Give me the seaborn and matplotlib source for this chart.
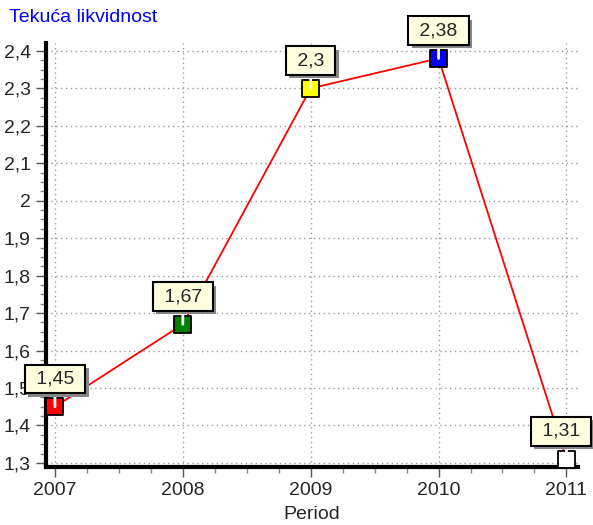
import matplotlib
matplotlib.use("Agg")
import matplotlib.pyplot as plt
import matplotlib.patheffects as pe
from matplotlib.ticker import MultipleLocator, FuncFormatter
import pandas as pd
import seaborn as sns

years = [2007, 2008, 2009, 2010, 2011]
values = [1.45, 1.67, 2.30, 2.38, 1.31]
labels = ["1,45", "1,67", "2,3", "2,38", "1,31"]
marker_colors = ["#ff0000", "#008000", "#ffff00", "#0000ff", "#ffffff"]

df = pd.DataFrame({"Period": years, "Vrijednost": values, "Oznaka": labels})

sns.set_style("white")
plt.rcParams['font.family'] = ['Liberation Sans', 'DejaVu Sans']

fig = plt.figure(figsize=(5.93, 5.25), dpi=100)
ax = fig.add_axes([0.0776, 0.1105, 0.897, 0.8075])

sns.lineplot(data=df, x="Period", y="Vrijednost", color="red", lw=1.3, ax=ax, zorder=3)
sns.scatterplot(data=df, x="Period", y="Vrijednost", hue="Oznaka", palette=marker_colors,
                marker="s", s=150, edgecolor="black", linewidth=1.3, legend=False, ax=ax, zorder=4)

off = 20  # label offset above the point, in points
for i, (x, y, t) in enumerate(zip(years, values, labels)):
    dx = -4 if i == len(years) - 1 else 0  # last box would hit the right edge
    a = ax.annotate(" " + t + " ", xy=(x, y), xytext=(dx, off), textcoords="offset points",
                    ha="center", va="center", fontsize=14, zorder=6,
                    bbox=dict(boxstyle="square,pad=0.3", fc="#ffffe0", ec="black", lw=1.5))
    a.get_bbox_patch().set_path_effects([
        pe.SimplePatchShadow(offset=(2.5, -2.5), shadow_rgbFace="#888888", alpha=1.0),
        pe.Normal()])
    ax.annotate("", xy=(x, y), xytext=(0, 7), textcoords="offset points",
                arrowprops=dict(arrowstyle="-", color="white", lw=2, shrinkA=0, shrinkB=0),
                zorder=5)

ax.set_xlim(2006.93, 2011.09)
ax.set_ylim(1.289, 2.421)
ax.xaxis.set_major_locator(MultipleLocator(1))
ax.xaxis.set_minor_locator(MultipleLocator(0.25))
ax.yaxis.set_major_locator(MultipleLocator(0.1))
ax.yaxis.set_minor_locator(MultipleLocator(0.025))
ax.yaxis.set_major_formatter(FuncFormatter(lambda v, p: f"{v:.1f}".rstrip("0").rstrip(".").replace(".", ",")))
ax.xaxis.set_major_formatter(FuncFormatter(lambda v, p: f"{int(round(v))}"))

ax.grid(True, which="major", color="#999999", linestyle=(0, (1, 2.5)), lw=1)
ax.tick_params(which="major", length=7, width=1, color="#555555", labelsize=14, direction="out",
               bottom=True, left=True, pad=4)
ax.tick_params(which="minor", length=4, width=1, color="#888888", direction="out",
               bottom=True, left=True)
for s in ["top", "right"]:
    ax.spines[s].set_visible(False)
for s in ["left", "bottom"]:
    ax.spines[s].set_linewidth(3)
    ax.spines[s].set_color("black")

ax.set_xlabel("Period", fontsize=14)
ax.xaxis.set_label_coords(0.5, -0.113)
ax.xaxis.label.set_va("center")
ax.set_ylabel("")
fig.text(0.015, 0.966, "Tekuća likvidnost", color="#0000ff", fontsize=14, ha="left", va="center")

fig.savefig("out.png", dpi=100)
